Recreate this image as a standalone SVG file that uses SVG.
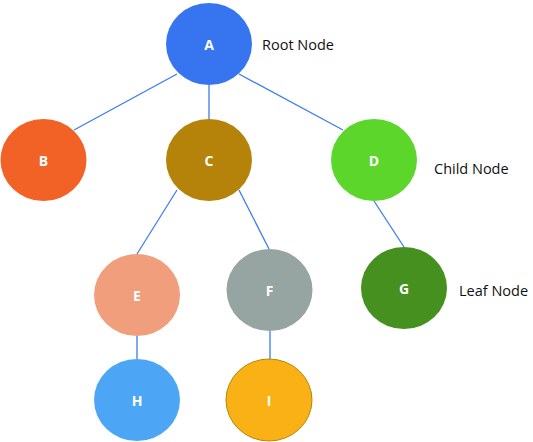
<svg xmlns="http://www.w3.org/2000/svg" width="533" height="442" viewBox="0 0 533 442">
<style>
.edge{stroke:#3B7DED;stroke-width:1.3;fill:none}
.lbl{font-family:"Open Sans","DejaVu Sans",sans-serif;font-weight:bold;font-size:14px;fill:#fff;text-anchor:middle}
.note{font-family:"Open Sans","DejaVu Sans",sans-serif;font-size:14.5px;fill:#111}
</style>
<rect width="533" height="442" fill="#fff"/>
<g id="connectors">
<line class="edge" x1="177" y1="74" x2="74" y2="130"/>
<line class="edge" x1="209" y1="85" x2="209" y2="119"/>
<line class="edge" x1="239" y1="74" x2="343" y2="130"/>
<line class="edge" x1="177" y1="190" x2="137" y2="254"/>
<line class="edge" x1="239" y1="190" x2="269" y2="249"/>
<line class="edge" x1="374" y1="201" x2="404" y2="247"/>
<line class="edge" x1="137" y1="336" x2="137" y2="359"/>
<line class="edge" x1="270" y1="331" x2="270" y2="359"/>
</g>
<g id="node-A"><ellipse cx="209" cy="44" rx="43" ry="41" fill="#3775F0"/><text class="lbl" x="209" y="50">A</text></g>
<g id="node-B"><ellipse cx="43.5" cy="160" rx="43" ry="41" fill="#F26226"/><text class="lbl" x="43.5" y="166">B</text></g>
<g id="node-C"><ellipse cx="209" cy="160" rx="43" ry="41" fill="#B5830A"/><text class="lbl" x="209" y="166">C</text></g>
<g id="node-D"><ellipse cx="374" cy="160" rx="43" ry="41" fill="#5DD62C"/><text class="lbl" x="374" y="166">D</text></g>
<g id="node-E"><ellipse cx="137" cy="295" rx="43" ry="41" fill="#F09E7C"/><text class="lbl" x="137" y="301">E</text></g>
<g id="node-F"><ellipse cx="269.5" cy="290" rx="43" ry="41" fill="#97A5A2"/><text class="lbl" x="269.5" y="296">F</text></g>
<g id="node-G"><ellipse cx="404" cy="288" rx="43" ry="41" fill="#45901E"/><text class="lbl" x="404" y="294">G</text></g>
<g id="node-H"><ellipse cx="137" cy="400" rx="43" ry="41" fill="#4DA6F5"/><text class="lbl" x="137" y="406">H</text></g>
<g id="node-I"><ellipse cx="269" cy="400" rx="43" ry="41" fill="#F9B115" stroke="#B8860B" stroke-width="1"/><text class="lbl" x="269" y="406">I</text></g>
<g id="annotations">
<text class="note" x="262" y="50">Root Node</text>
<text class="note" x="434" y="174">Child Node</text>
<text class="note" x="459" y="296">Leaf Node</text>
</g>
</svg>
